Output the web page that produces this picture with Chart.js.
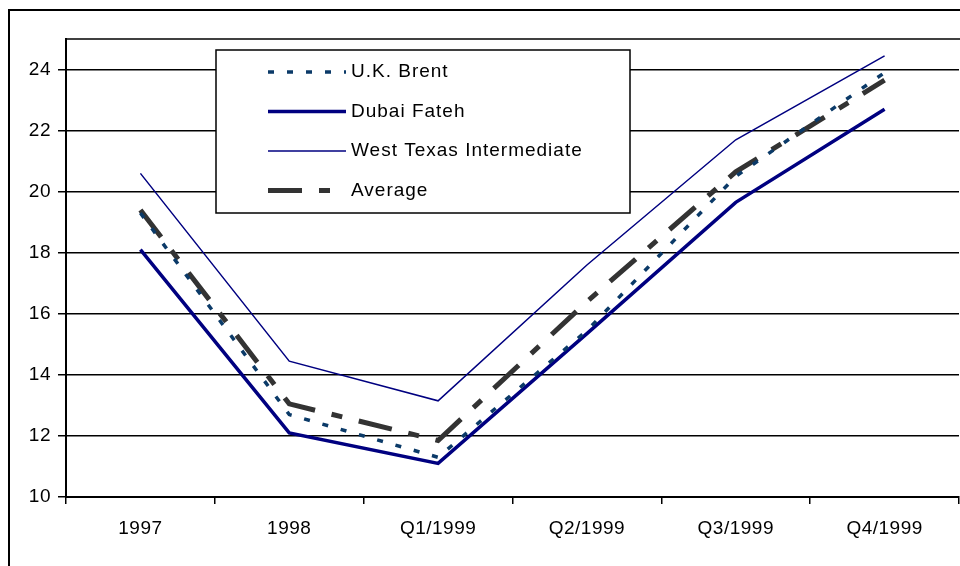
<!DOCTYPE html>
<html>
<head>
<meta charset="utf-8">
<script src="https://cdn.jsdelivr.net/npm/chart.js@4"></script>
<style>
  html, body { margin: 0; padding: 0; background: #fff; }
  canvas { display: block; }
</style>
</head>
<body>
<canvas id="myChart" width="960" height="566"></canvas>
<script>
const categories = ['1997', '1998', 'Q1/1999', 'Q2/1999', 'Q3/1999', 'Q4/1999'];
const brent = [19.3, 12.7, 11.3, 15.45, 20.5, 23.9];
const dubai = [18.1, 12.1, 11.1, 15.35, 19.65, 22.7];
const wti = [20.6, 14.45, 13.15, 17.6, 21.7, 24.45];
const average = [19.4, 13.05, 11.85, 16.4, 20.65, 23.65];
const yTicks = [10, 12, 14, 16, 18, 20, 22, 24];

const FONT = 'Liberation Sans, Arial, sans-serif';

// a little letter spacing, like the original's text
const spacing = {
	id: 'spacing',
	beforeDraw(chart) {
		chart.ctx.letterSpacing = '0.5px';
	}
};

// frame round the whole chart and top line of the plot
const frames = {
	id: 'frames',
	afterDraw(chart) {
		const ctx = chart.ctx;
		const a = chart.chartArea;
		ctx.save();
		ctx.strokeStyle = '#000';
		ctx.lineWidth = 2;
		ctx.strokeRect(9, 10, 1000, 1000);
		ctx.lineWidth = 1.5;
		ctx.beginPath();
		ctx.moveTo(a.left, a.top);
		ctx.lineTo(a.right + 2, a.top);
		ctx.stroke();
		ctx.restore();
	}
};

// boxed legend inside the plot
const boxLegend = {
	id: 'boxLegend',
	afterDraw(chart) {
		const ctx = chart.ctx;
		const x = 216, y = 50, w = 414, h = 163;
		ctx.save();
		ctx.fillStyle = '#fff';
		ctx.fillRect(x, y, w, h);
		ctx.strokeStyle = '#000';
		ctx.lineWidth = 1.5;
		ctx.strokeRect(x, y, w, h);
		chart.data.datasets.forEach((ds, i) => {
			const cy = 71 + i * 39.5;
			ctx.strokeStyle = ds.borderColor;
			ctx.lineWidth = ds.borderWidth;
			ctx.setLineDash(ds.borderDash || []);
			ctx.lineCap = 'butt';
			ctx.beginPath();
			ctx.moveTo(268, cy + 1);
			ctx.lineTo(346, cy + 1);
			ctx.stroke();
			ctx.setLineDash([]);
			ctx.fillStyle = '#000';
			ctx.font = '19px ' + FONT;
			ctx.letterSpacing = '1px';
			ctx.textBaseline = 'middle';
			ctx.textAlign = 'left';
			ctx.fillText(ds.label, 351, cy + 1);
		});
		ctx.restore();
	}
};

new Chart(document.getElementById('myChart').getContext('2d'), {
	type: 'line',
	data: {
		labels: categories,
		datasets: [{
			label: 'U.K. Brent',
			data: brent,
			borderColor: '#0b3a68',
			borderWidth: 3.5,
			borderDash: [6, 13],
		}, {
			label: 'Dubai Fateh',
			data: dubai,
			borderColor: '#000080',
			borderWidth: 3.5,
		}, {
			label: 'West Texas Intermediate',
			data: wti,
			borderColor: '#000080',
			borderWidth: 1.5,
		}, {
			label: 'Average',
			data: average,
			borderColor: '#333333',
			borderWidth: 5,
			borderDash: [34, 17, 11, 17],
		}]
	},
	options: {
		responsive: false,
		devicePixelRatio: 1,
		animation: false,
		layout: { padding: { top: 39, right: 1, left: 0, bottom: 0 } },
		elements: {
			point: { radius: 0, hoverRadius: 0 },
			line: { tension: 0, fill: false, borderCapStyle: 'butt' }
		},
		plugins: {
			legend: { display: false },
			tooltip: { enabled: false }
		},
		scales: {
			x: {
				offset: true,
				grid: {
					offset: true,
					drawOnChartArea: false,
					tickLength: 7,
					color: '#000',
					lineWidth: 1.5
				},
				border: { color: '#000', width: 2 },
				ticks: {
					color: '#000',
					font: { family: FONT, size: 19 },
					padding: 13,
					maxRotation: 0,
					autoSkip: false
				},
				afterFit: s => { s.height = 69; }
			},
			y: {
				min: 10,
				max: 25,
				afterBuildTicks: s => { s.ticks = yTicks.map(v => ({ value: v })); },
				grid: {
					color: '#000',
					lineWidth: 1.5,
					tickLength: 8
				},
				border: { color: '#000', width: 2 },
				ticks: {
					color: '#000',
					font: { family: FONT, size: 19 },
					padding: 7
				},
				afterFit: s => { s.width = 66; }
			}
		}
	},
	plugins: [spacing, frames, boxLegend]
});
</script>
</body>
</html>
